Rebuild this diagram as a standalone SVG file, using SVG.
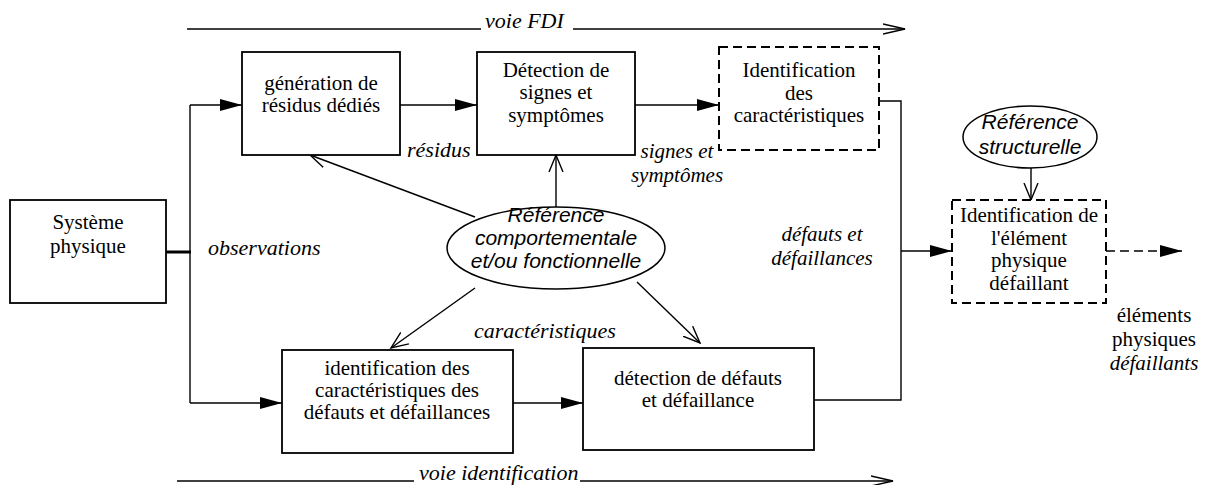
<svg xmlns="http://www.w3.org/2000/svg" width="1210" height="485" viewBox="0 0 1210 485">
<style>
.box{fill:#fff;stroke:#000;stroke-width:1.8}
.dbox{fill:#fff;stroke:#000;stroke-width:2;stroke-dasharray:9 5}
.ell{fill:#fff;stroke:#000;stroke-width:1.5}
.t{font-family:"Liberation Serif","Times New Roman",serif;font-size:21px;text-anchor:middle;fill:#000}
.l{font-family:"Liberation Serif","Times New Roman",serif;font-size:22px;font-style:italic;fill:#000}
.l2{font-size:21px;text-anchor:middle}
.s{font-family:"Liberation Sans",Arial,sans-serif;font-size:21px;font-style:italic;text-anchor:middle;fill:#000}
.c{fill:none;stroke:#000;stroke-width:1.4}
.cf{marker-end:url(#fa)}
.co{marker-end:url(#oa)}
.cv{marker-end:url(#va)}
</style>
<defs>
<marker id="fa" markerWidth="22" markerHeight="12" refX="22" refY="6" orient="auto" markerUnits="userSpaceOnUse"><path d="M0,0 L22,6 L0,12 Z" fill="#000"/></marker>
<marker id="oa" markerWidth="19" markerHeight="16" refX="17" refY="8" orient="auto" markerUnits="userSpaceOnUse"><path d="M0,1 L17,8 L0,15" fill="none" stroke="#000" stroke-width="1.4"/></marker>
<marker id="va" markerWidth="24" markerHeight="12" refX="22" refY="6" orient="auto" markerUnits="userSpaceOnUse"><path d="M0,1 L22,6 L0,11" fill="none" stroke="#000" stroke-width="1.4"/></marker>
</defs>

<g id="connectors">
  <path class="c" d="M187,29 H481"/>
  <path class="c cv" d="M573,29 H905"/>
  <path class="c" d="M177,481 H414"/>
  <path class="c cv" d="M580,481 H893"/>
  <path d="M166,252 H191" fill="none" stroke="#000" stroke-width="3"/>
  <path class="c" d="M190,403 V105"/>
  <path class="c cf" d="M190,105 H242"/>
  <path class="c cf" d="M190,403 H282"/>
  <path class="c cf" d="M400,105 H477"/>
  <path class="c cf" d="M635,105 H719"/>
  <path class="c cf" d="M513,403 H583"/>
  <path class="c" d="M879,101 H901 V400 H814"/>
  <path class="c cf" d="M901,251 H952"/>
  <path class="c cf" d="M1106,251 H1182" stroke-dasharray="9 5" stroke-width="2"/>
  <path class="c co" d="M475,217 L310,155"/>
  <path class="c co" d="M556,207 V155"/>
  <path class="c co" d="M475,288 L391,348"/>
  <path class="c co" d="M637,282 L700,343"/>
  <path class="c co" d="M1031,168 V200"/>
</g>

<g id="labels">
  <text class="l" x="485" y="28">voie FDI</text>
  <text class="l" x="419" y="480">voie identification</text>
  <text class="l" x="407" y="157">résidus</text>
  <text class="l l2" x="677" y="158">signes et</text>
  <text class="l l2" x="677" y="182">symptômes</text>
  <text class="l" x="208" y="255">observations</text>
  <text class="l l2" x="822" y="241">défauts et</text>
  <text class="l l2" x="822" y="265">défaillances</text>
  <text class="l" x="474" y="338">caractéristiques</text>
  <text class="t" x="1154" y="322">éléments</text>
  <text class="t" x="1154" y="346">physiques</text>
  <text class="l l2" x="1154" y="370">défaillants</text>
</g>

<g id="systeme">
  <rect class="box" x="10" y="200" width="156" height="103"/>
  <text class="t" x="88" y="229">Système</text>
  <text class="t" x="88" y="253">physique</text>
</g>

<g id="generation">
  <rect class="box" x="242" y="52" width="158" height="103"/>
  <text class="t" x="321" y="90">génération de</text>
  <text class="t" x="321" y="112">résidus dédiés</text>
</g>

<g id="detection-signes">
  <rect class="box" x="477" y="52" width="158" height="103"/>
  <text class="t" x="556" y="77">Détection de</text>
  <text class="t" x="556" y="99">signes et</text>
  <text class="t" x="556" y="122">symptômes</text>
</g>

<g id="identification-caract">
  <rect class="dbox" x="719" y="47" width="160" height="103"/>
  <text class="t" x="799" y="77">Identification</text>
  <text class="t" x="799" y="100">des</text>
  <text class="t" x="799" y="122">caractéristiques</text>
</g>

<g id="ref-structurelle">
  <ellipse class="ell" cx="1030" cy="137" rx="67" ry="31"/>
  <text class="s" x="1030" y="129">Référence</text>
  <text class="s" x="1030" y="154">structurelle</text>
</g>

<g id="identification-element">
  <rect class="dbox" x="952" y="200" width="154" height="103"/>
  <text class="t" x="1029" y="222">Identification de</text>
  <text class="t" x="1029" y="245">l'élément</text>
  <text class="t" x="1029" y="267">physique</text>
  <text class="t" x="1029" y="290">défaillant</text>
</g>

<g id="ref-comportementale">
  <ellipse class="ell" cx="556" cy="248" rx="109" ry="41"/>
  <text class="s" x="556" y="222">Référence</text>
  <text class="s" x="556" y="245">comportementale</text>
  <text class="s" x="556" y="268">et/ou fonctionnelle</text>
</g>

<g id="identification-defauts">
  <rect class="box" x="282" y="350" width="231" height="103"/>
  <text class="t" x="397" y="375">identification des</text>
  <text class="t" x="397" y="397">caractéristiques des</text>
  <text class="t" x="397" y="419">défauts et défaillances</text>
</g>

<g id="detection-defauts">
  <rect class="box" x="583" y="348" width="231" height="102"/>
  <text class="t" x="698" y="385">détection de défauts</text>
  <text class="t" x="698" y="407">et défaillance</text>
</g>
</svg>
